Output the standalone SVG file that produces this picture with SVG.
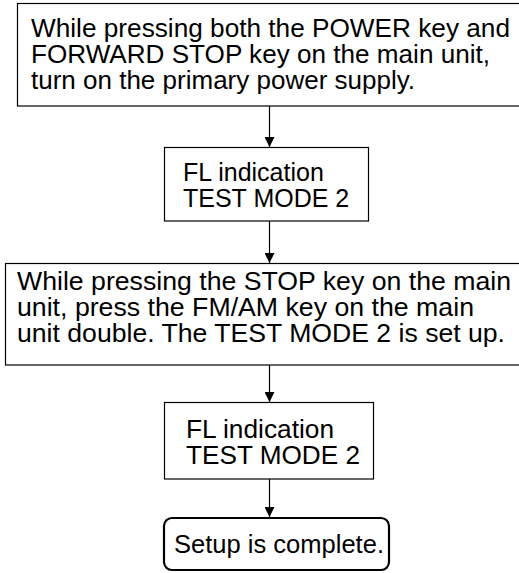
<svg xmlns="http://www.w3.org/2000/svg" width="519" height="573" viewBox="0 0 519 573">
<defs>
<style>
.box{fill:#fff;stroke:#000;stroke-width:1.2}
.end{fill:#fff;stroke:#000;stroke-width:2.2}
.t{font-family:"Liberation Sans",Arial,sans-serif;font-size:25px;fill:#000}
.c{stroke:#000;stroke-width:1.2;fill:none}
</style>
<marker id="ah" viewBox="0 0 10 10" refX="10" refY="5" markerWidth="10" markerHeight="10" markerUnits="userSpaceOnUse" orient="auto">
<path d="M0,0 L10,5 L0,10 Z" fill="#000"/>
</marker>
</defs>
<g id="connectors">
<line class="c" x1="269.5" y1="106" x2="269.5" y2="147" marker-end="url(#ah)"/>
<line class="c" x1="269.5" y1="221" x2="269.5" y2="263" marker-end="url(#ah)"/>
<line class="c" x1="269.5" y1="365" x2="269.5" y2="402" marker-end="url(#ah)"/>
<line class="c" x1="269.5" y1="479" x2="269.5" y2="517" marker-end="url(#ah)"/>
</g>
<g id="n1">
<rect class="box" x="17.5" y="3.5" width="510" height="102.5"/>
<text class="t" x="31" y="37" textLength="479" lengthAdjust="spacingAndGlyphs">While pressing both the POWER key and</text>
<text class="t" x="31" y="63" textLength="459" lengthAdjust="spacingAndGlyphs">FORWARD STOP key on the main unit,</text>
<text class="t" x="31" y="89" textLength="384" lengthAdjust="spacingAndGlyphs">turn on the primary power supply.</text>
</g>
<g id="n2">
<rect class="box" x="164.5" y="147.5" width="204" height="73.5"/>
<text class="t" x="183" y="181">FL indication</text>
<text class="t" x="183" y="207">TEST MODE 2</text>
</g>
<g id="n3">
<rect class="box" x="5.5" y="263.5" width="520" height="101.5"/>
<text class="t" x="17" y="290" textLength="494" lengthAdjust="spacingAndGlyphs">While pressing the STOP key on the main</text>
<text class="t" x="17" y="316" textLength="457" lengthAdjust="spacingAndGlyphs">unit, press the FM/AM key on the main</text>
<text class="t" x="17" y="342" textLength="488" lengthAdjust="spacingAndGlyphs">unit double. The TEST MODE 2 is set up.</text>
</g>
<g id="n4">
<rect class="box" x="164.5" y="402.5" width="209" height="76.5"/>
<text class="t" x="186" y="438" textLength="148" lengthAdjust="spacingAndGlyphs">FL indication</text>
<text class="t" x="186" y="464" textLength="174" lengthAdjust="spacingAndGlyphs">TEST MODE 2</text>
</g>
<g id="n5">
<rect class="end" x="164" y="518" width="225" height="52" rx="8" ry="8"/>
<text class="t" x="174" y="553" textLength="210" lengthAdjust="spacingAndGlyphs">Setup is complete.</text>
</g>
</svg>
